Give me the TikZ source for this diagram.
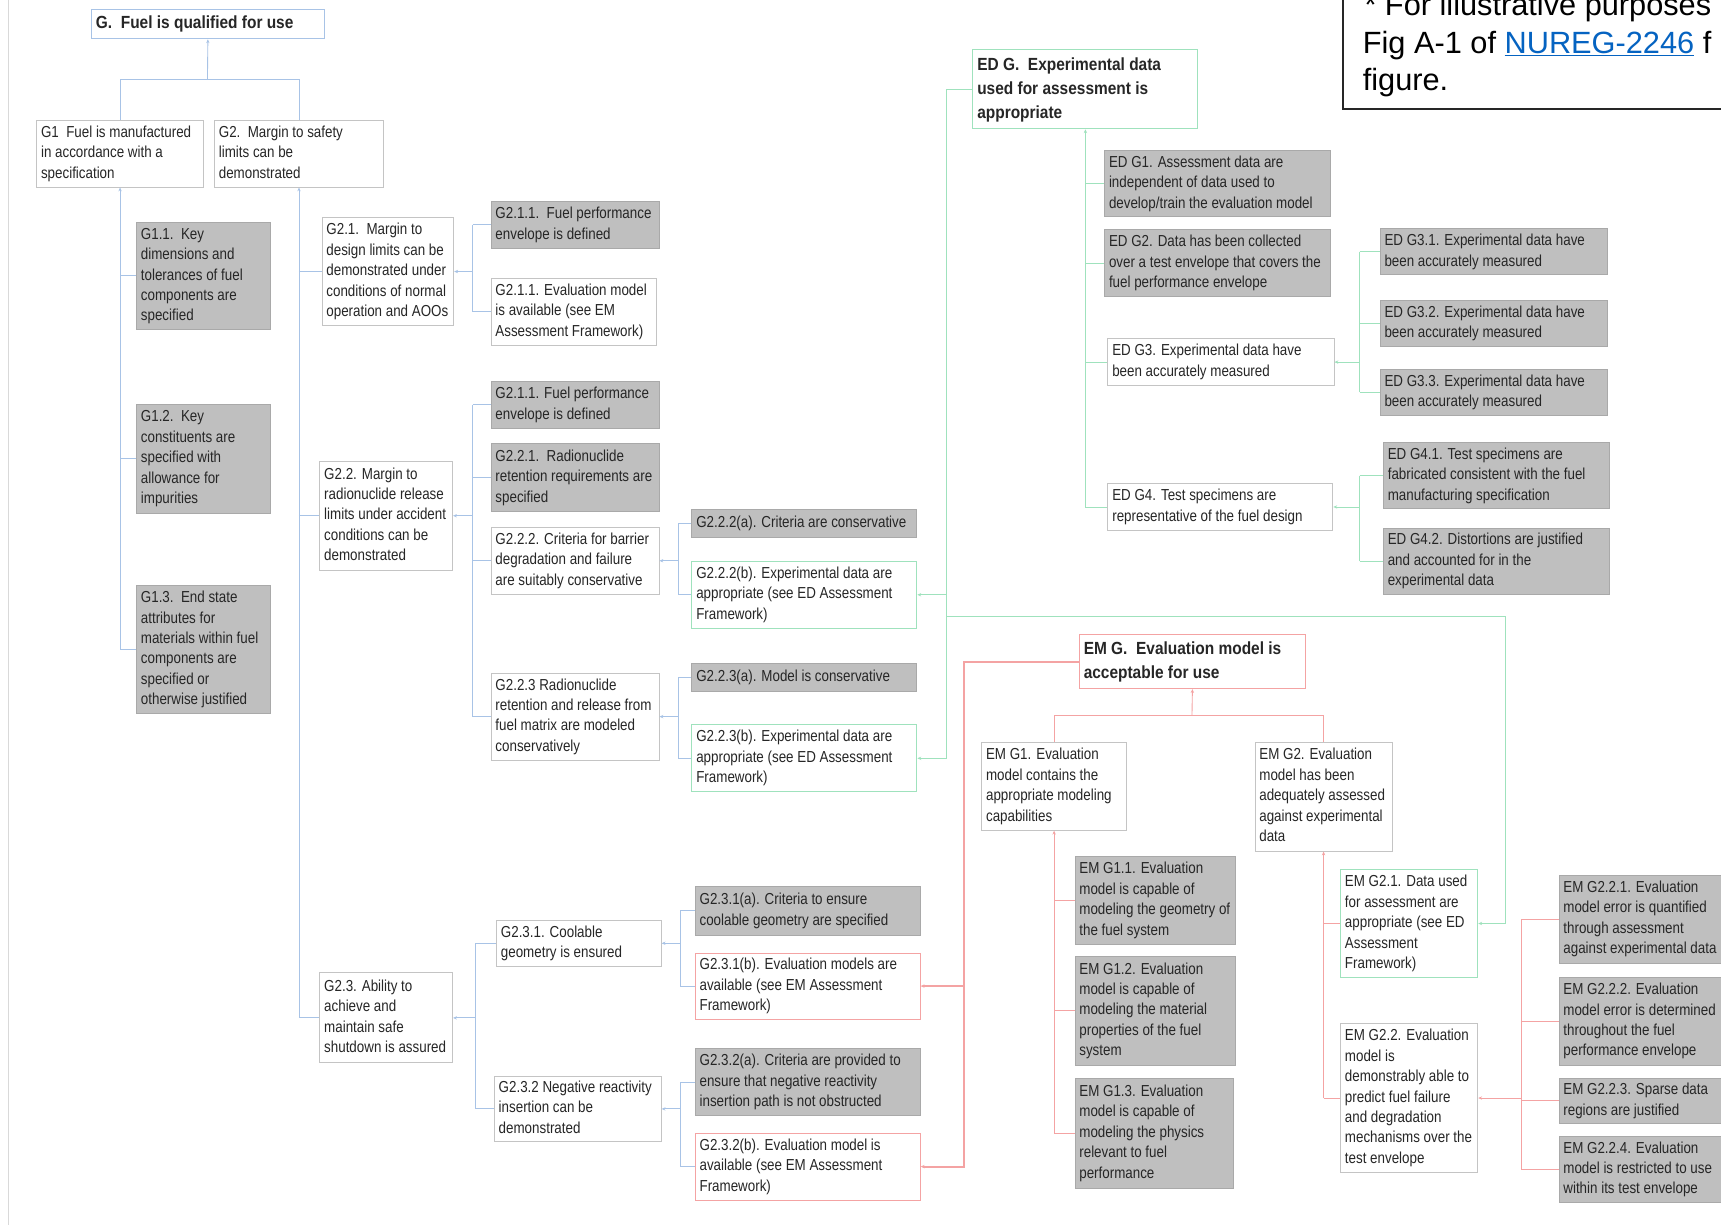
\documentclass[tikz,border=0pt]{standalone}
\usepackage{fontspec}
\setmainfont{Liberation Sans}
\newfontfamily\bodyf{Liberation Sans}[FakeStretch=0.84]
\newfontfamily\headf{Liberation Sans}[FakeStretch=0.88]
\newfontfamily\notef{Liberation Sans}
\usetikzlibrary{arrows.meta}
\definecolor{boxgray}{HTML}{BFBFBF}
\definecolor{boxedge}{HTML}{A9A9A9}
\definecolor{wedge}{HTML}{C4C4C4}
\definecolor{bline}{HTML}{A8C3E6}
\definecolor{gline}{HTML}{9FE2BD}
\definecolor{rline}{HTML}{F4A3A3}
\definecolor{txt}{HTML}{262626}
\definecolor{linkblue}{HTML}{0563C1}
\newcommand\bx[7]{%
  \pgfmathsetmacro\bxtw{#5-8}%
  \node[#1, anchor=north west, minimum width=#5pt, minimum height=#6pt] (#2) at (#3,#4)
    {\makebox[\bxtw pt][l]{\begin{tabular}{@{}l@{}}#7\end{tabular}}};}
\tikzset{
  body/.style={font=\bodyf\fontsize{14.5pt}{18.6pt}\selectfont},
  head/.style={font=\headf\bfseries\fontsize{16pt}{22pt}\selectfont},
  nb/.style={draw, line width=0.8pt, inner xsep=4pt, inner ysep=2pt, text=txt, body},
  wbox/.style={nb, draw=wedge, fill=white},
  gbox/.style={nb, draw=boxedge, fill=boxgray},
  ebox/.style={nb, draw=gline, fill=white},
  mbox/.style={nb, draw=rline, fill=white},
  bl/.style={draw=bline, line width=0.8pt},
  gr/.style={draw=gline, line width=0.8pt},
  rd/.style={draw=rline, line width=0.8pt},
  arr/.style={-{Stealth[length=3.5pt,width=3pt]}},
}
\begin{document}
\begin{tikzpicture}[x=1pt,y=-1pt]
\useasboundingbox (0,0) rectangle (1568,1116);
\fill[white] (0,0) rectangle (1568,1116);
\clip (0,0) rectangle (1568,1116);
\draw[black!15, line width=1pt] (8,0) -- (8,1116);

% ---------- G tree ----------
\bx{nb, draw=bline, fill=white, head}{G}{83}{8}{212}{27}{G.\ \ Fuel is qualified for use}
\bx{wbox}{G1}{33}{109}{152}{61}{G1\ \ Fuel is manufactured\\in accordance with a\\specification}
\bx{wbox}{G2}{195}{109}{154}{61}{G2.\ \ Margin to safety\\limits can be\\demonstrated}
\bx{gbox}{G11}{124}{202}{122}{98}{G1.1.\ \ Key\\dimensions and\\tolerances of fuel\\components are\\specified}
\bx{gbox}{G12}{124}{368}{122}{99}{G1.2.\ \ Key\\constituents are\\specified with\\allowance for\\impurities}
\bx{gbox}{G13}{124}{533}{122}{117}{G1.3.\ \ End state\\attributes for\\materials within fuel\\components are\\specified or\\otherwise justified}
\bx{wbox}{G21}{293}{198}{120}{98}{G2.1.\ \ Margin to\\design limits can be\\demonstrated under\\conditions of normal\\operation and AOOs}
\bx{wbox}{G22}{291}{420}{121}{99}{G2.2. Margin to\\radionuclide release\\limits under accident\\conditions can be\\demonstrated}
\bx{wbox}{G23}{291}{886}{121}{82}{G2.3. Ability to\\achieve and\\maintain safe\\shutdown is assured}
\bx{gbox}{G211a}{447}{183}{153}{43}{G2.1.1.\ \ Fuel performance\\envelope is defined}
\bx{wbox}{G211b}{447}{253}{151}{61}{G2.1.1. Evaluation model\\is available (see EM\\Assessment Framework)}
\bx{gbox}{G211c}{447}{347}{153}{43}{G2.1.1. Fuel performance\\envelope is defined}
\bx{gbox}{G221}{447}{404}{153}{62}{G2.2.1.\ \ Radionuclide\\retention requirements are\\specified}
\bx{wbox}{G222}{447}{480}{153}{61}{G2.2.2. Criteria for barrier\\degradation and failure\\are suitably conservative}
\bx{wbox}{G223}{447}{613}{153}{79}{G2.2.3 Radionuclide\\retention and release from\\fuel matrix are modeled\\conservatively}
\bx{gbox}{G222a}{630}{464}{205}{25}{G2.2.2(a). Criteria are conservative}
\bx{ebox}{G222b}{630}{511}{205}{61}{G2.2.2(b). Experimental data are\\appropriate (see ED Assessment\\Framework)}
\bx{gbox}{G223a}{630}{604}{205}{26}{G2.2.3(a). Model is conservative}
\bx{ebox}{G223b}{630}{660}{205}{61}{G2.2.3(b). Experimental data are\\appropriate (see ED Assessment\\Framework)}
\bx{wbox}{G231}{452}{838}{150}{42}{G2.3.1. Coolable\\geometry is ensured}
\bx{wbox}{G232}{450}{980}{152}{59}{G2.3.2 Negative reactivity\\insertion can be\\demonstrated}
\bx{gbox}{G231a}{633}{807}{205}{45}{G2.3.1(a). Criteria to ensure\\coolable geometry are specified}
\bx{mbox}{G231b}{633}{868}{205}{60}{G2.3.1(b). Evaluation models are\\available (see EM Assessment\\Framework)}
\bx{gbox}{G232a}{633}{955}{205}{61}{G2.3.2(a). Criteria are provided to\\ensure that negative reactivity\\insertion path is not obstructed}
\bx{mbox}{G232b}{633}{1032}{205}{61}{G2.3.2(b). Evaluation model is\\available (see EM Assessment\\Framework)}

% ---------- ED tree ----------
\bx{nb, draw=gline, fill=white, head}{EDG}{886}{45}{205}{72}{ED G.\ \ Experimental data\\used for assessment is\\appropriate}
\bx{gbox}{EDG1}{1006}{137}{206}{59}{ED G1. Assessment data are\\independent of data used to\\develop/train the evaluation model}
\bx{gbox}{EDG2}{1006}{209}{206}{61}{ED G2. Data has been collected\\over a test envelope that covers the\\fuel performance envelope}
\bx{wbox}{EDG3}{1009}{308}{206}{43}{ED G3. Experimental data have\\been accurately measured}
\bx{wbox}{EDG4}{1009}{440}{205}{43}{ED G4. Test specimens are\\representative of the fuel design}
\bx{gbox}{EDG31}{1257}{208}{207}{42}{ED G3.1. Experimental data have\\been accurately measured}
\bx{gbox}{EDG32}{1257}{273}{207}{42}{ED G3.2. Experimental data have\\been accurately measured}
\bx{gbox}{EDG33}{1257}{336}{207}{42}{ED G3.3. Experimental data have\\been accurately measured}
\bx{gbox}{EDG41}{1260}{403}{206}{60}{ED G4.1. Test specimens are\\fabricated consistent with the fuel\\manufacturing specification}
\bx{gbox}{EDG42}{1260}{481}{206}{60}{ED G4.2. Distortions are justified\\and accounted for in the\\experimental data}

% ---------- EM tree ----------
\bx{nb, draw=rline, fill=white, head}{EMG}{983}{578}{206}{49}{EM G.\ \ Evaluation model is\\acceptable for use}
\bx{wbox}{EMG1}{894}{676}{132}{80}{EM G1. Evaluation\\model contains the\\appropriate modeling\\capabilities}
\bx{wbox}{EMG2}{1143}{676}{125}{99}{EM G2. Evaluation\\model has been\\adequately assessed\\against experimental\\data}
\bx{gbox}{EMG11}{979}{780}{146}{80}{EM G1.1. Evaluation\\model is capable of\\modeling the geometry of\\the fuel system}
\bx{gbox}{EMG12}{979}{871}{146}{99}{EM G1.2. Evaluation\\model is capable of\\modeling the material\\properties of the fuel\\system}
\bx{gbox}{EMG13}{979}{982}{144}{100}{EM G1.3. Evaluation\\model is capable of\\modeling the physics\\relevant to fuel\\performance}
\bx{ebox}{EMG21}{1221}{792}{125}{98}{EM G2.1. Data used\\for assessment are\\appropriate (see ED\\Assessment\\Framework)}
\bx{wbox}{EMG22}{1221}{932}{125}{136}{EM G2.2. Evaluation\\model is\\demonstrably able to\\predict fuel failure\\and degradation\\mechanisms over the\\test envelope}
\bx{gbox}{EMG221}{1420}{797}{160}{80}{EM G2.2.1. Evaluation\\model error is quantified\\through assessment\\against experimental data}
\bx{gbox}{EMG222}{1420}{890}{160}{80}{EM G2.2.2. Evaluation\\model error is determined\\throughout the fuel\\performance envelope}
\bx{gbox}{EMG223}{1420}{982}{160}{40}{EM G2.2.3. Sparse data\\regions are justified}
\bx{gbox}{EMG224}{1420}{1035}{160}{60}{EM G2.2.4. Evaluation\\model is restricted to use\\within its test envelope}

% ---------- note box ----------
\draw[line width=1.5pt, black!85] (1223.6,-30) rectangle (1640,99.6);
\node[anchor=base west, inner sep=0, font=\notef\fontsize{28pt}{34pt}\selectfont] (note1) at (1243,13.7) {* For illustrative purposes};
\node[anchor=base west, inner sep=0, font=\notef\fontsize{28pt}{34pt}\selectfont] (note2) at (1241.5,48.6) {Fig A-1 of \textcolor{linkblue}{\underline{NUREG-2246}} f};
\node[anchor=base west, inner sep=0, font=\notef\fontsize{28pt}{34pt}\selectfont] (note3) at (1241.5,82.6) {figure.};

% ---------- blue connectors ----------
\coordinate (j0) at (189,72);
\draw[bl] (G1.north) |- (j0) -| (G2.north);
\draw[bl,arr] (j0) -- (G.south);
\draw[bl,arr] (G1.south |- G13.west) -- (G1.south);
\foreach \c in {G11,G12,G13} \draw[bl] (G1.south |- \c.west) -- (\c.west);
\draw[bl,arr] (G2.south |- G23.west) -- (G2.south);
\foreach \c in {G21,G22,G23} \draw[bl] (G2.south |- \c.west) -- (\c.west);

\path (G21.east) ++(17,0) coordinate (x21);
\draw[bl,arr] (x21) -- (G21.east);
\draw[bl] (x21 |- G211a.west) -- (x21 |- G211b.west);
\foreach \c in {G211a,G211b} \draw[bl] (x21 |- \c.west) -- (\c.west);

\path (G22.east) ++(18,0) coordinate (x22);
\draw[bl,arr] (x22) -- (G22.east);
\draw[bl] (x22 |- G211c.west) -- (x22 |- G223.west);
\foreach \c in {G211c,G221,G222,G223} \draw[bl] (x22 |- \c.west) -- (\c.west);

\path (G222.east) ++(17,0) coordinate (x222);
\draw[bl,arr] (x222) -- (G222.east);
\draw[bl] (x222 |- G222a.west) -- (x222 |- G222b.west);
\foreach \c in {G222a,G222b} \draw[bl] (x222 |- \c.west) -- (\c.west);

\path (G223.east) ++(17,0) coordinate (x223);
\draw[bl,arr] (x223) -- (G223.east);
\draw[bl] (x223 |- G223a.west) -- (x223 |- G223b.west);
\foreach \c in {G223a,G223b} \draw[bl] (x223 |- \c.west) -- (\c.west);

\path (G23.east) ++(20,0) coordinate (x23);
\draw[bl,arr] (x23) -- (G23.east);
\draw[bl] (x23 |- G231.west) -- (x23 |- G232.west);
\foreach \c in {G231,G232} \draw[bl] (x23 |- \c.west) -- (\c.west);

\path (G231.east) ++(17,0) coordinate (x231);
\draw[bl,arr] (x231) -- (G231.east);
\draw[bl] (x231 |- G231a.west) -- (x231 |- G231b.west);
\foreach \c in {G231a,G231b} \draw[bl] (x231 |- \c.west) -- (\c.west);

\path (G232.east) ++(17,0) coordinate (x232);
\draw[bl,arr] (x232) -- (G232.east);
\draw[bl] (x232 |- G232a.west) -- (x232 |- G232b.west);
\foreach \c in {G232a,G232b} \draw[bl] (x232 |- \c.west) -- (\c.west);

% ---------- green connectors ----------
\path (EDG.west) ++(-24,0) coordinate (xg);
\draw[gr,arr] (EDG.west) -| (xg |- G223b.east) -- (G223b.east);
\draw[gr,arr] (xg |- G222b.east) -- (G222b.east);
\coordinate (gy) at (1372,562);
\draw[gr,arr] (xg |- gy) -| (gy |- EMG21.east) -- (EMG21.east);

\draw[gr,arr] (EDG.south |- EDG4.west) -- (EDG.south);
\foreach \c in {EDG1,EDG2,EDG3,EDG4} \draw[gr] (EDG.south |- \c.west) -- (\c.west);

\path (EDG3.east) ++(23,0) coordinate (xe3);
\draw[gr,arr] (xe3) -- (EDG3.east);
\draw[gr] (xe3 |- EDG31.west) -- (xe3 |- EDG33.west);
\foreach \c in {EDG31,EDG32,EDG33} \draw[gr] (xe3 |- \c.west) -- (\c.west);

\path (EDG4.east) ++(24,0) coordinate (xe4);
\draw[gr,arr] (xe4) -- (EDG4.east);
\draw[gr] (xe4 |- EDG41.west) -- (xe4 |- EDG42.west);
\foreach \c in {EDG41,EDG42} \draw[gr] (xe4 |- \c.west) -- (\c.west);

% ---------- red connectors ----------
\path (EMG.west) ++(-105,0) coordinate (xr);
\draw[rd,line width=1.6pt,arr] (EMG.west) -| (xr |- G232b.east) -- (G232b.east);
\draw[rd,line width=1.6pt,arr] (xr |- G231b.east) -- (G231b.east);

\coordinate (rj) at (1086,652);
\draw[rd] (EMG1.north) |- (rj) -| (EMG2.north);
\draw[rd,arr] (rj) -- (EMG.south);

\draw[rd,arr] (EMG1.south |- EMG13.west) -- (EMG1.south);
\foreach \c in {EMG11,EMG12,EMG13} \draw[rd] (EMG1.south |- \c.west) -- (\c.west);

\draw[rd,arr] (EMG2.south |- EMG22.west) -- (EMG2.south);
\foreach \c in {EMG21,EMG22} \draw[rd] (EMG2.south |- \c.west) -- (\c.west);

\path (EMG22.east) ++(39,0) coordinate (xm22);
\draw[rd,arr] (xm22) -- (EMG22.east);
\draw[rd] (xm22 |- EMG221.west) -- (xm22 |- EMG224.west);
\foreach \c in {EMG221,EMG222,EMG223,EMG224} \draw[rd] (xm22 |- \c.west) -- (\c.west);
\end{tikzpicture}
\end{document}
